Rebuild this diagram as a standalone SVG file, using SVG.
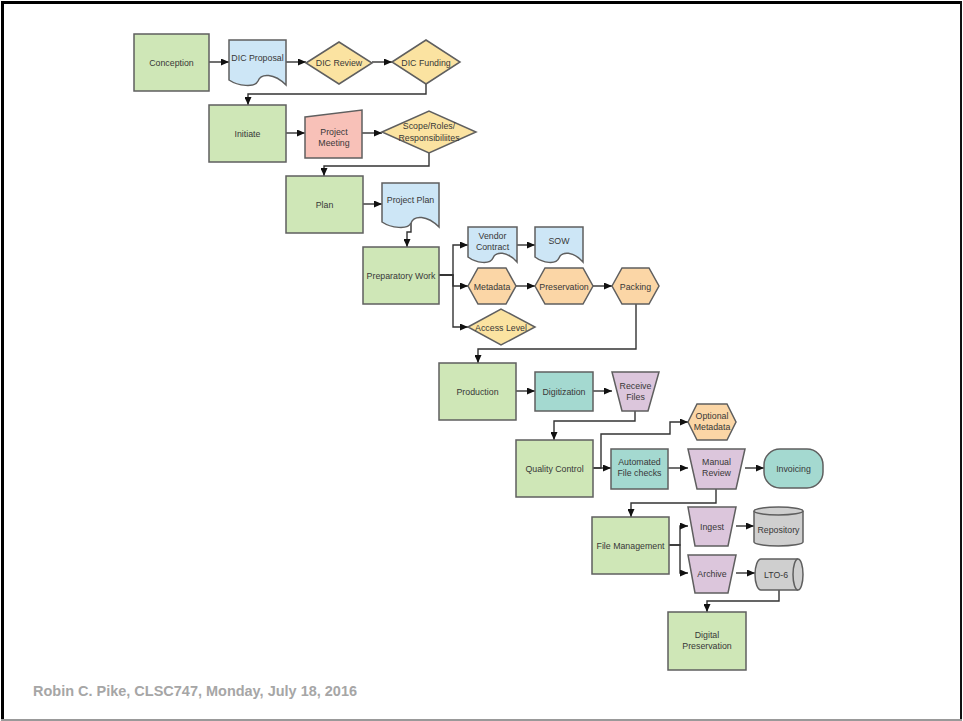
<svg xmlns="http://www.w3.org/2000/svg" width="963" height="721" viewBox="0 0 963 721">
<style>
.n{stroke:#5f5f5f;stroke-width:1.5}
.g{fill:#cfe7b7}
.b{fill:#cde6f6}
.y{fill:#fbe3a1}
.p{fill:#f8c1b8}
.o{fill:#fbd6a6}
.t{fill:#a4d9d0}
.v{fill:#dcc6dc}
.c{fill:#cfcfcf}
text{font-family:"Liberation Sans",Arial,sans-serif;font-size:8.8px;fill:#383838;text-anchor:middle}
.e path{fill:none;stroke:#333;stroke-width:1.4;marker-end:url(#ah)}
</style>
<defs>
<marker id="ah" markerUnits="userSpaceOnUse" markerWidth="9" markerHeight="7" refX="8" refY="3.5" orient="auto">
<path d="M0,0 L8,3.5 L0,7 z" fill="#111"/>
</marker>
</defs>
<rect width="963" height="721" fill="#fff"/>
<g id="frame">
<line x1="2.5" y1="1" x2="2.5" y2="721" stroke="#000" stroke-width="3"/>
<line x1="1" y1="2.5" x2="962" y2="2.5" stroke="#000" stroke-width="3"/>
<line x1="961" y1="1" x2="961" y2="721" stroke="#111" stroke-width="2"/>
<line x1="1" y1="720" x2="962" y2="720" stroke="#999" stroke-width="2"/>
</g>
<g class="e" id="connectors">
<path d="M209,62 H229"/>
<path d="M286,62 H306"/>
<path d="M372,62 H392"/>
<path d="M426,84 V94 H248 V105"/>
<path d="M286,133 H305"/>
<path d="M362,133 H382"/>
<path d="M429,153 V166 H324 V176"/>
<path d="M363,204 H382"/>
<path d="M411,223 V232 H407 V247"/>
<path d="M439,275 H453 V245 H468"/>
<path d="M439,275 H453 V286 H468"/>
<path d="M439,275 H453 V327 H468"/>
<path d="M517,245 H535"/>
<path d="M516,286 H535"/>
<path d="M593,286 H612"/>
<path d="M636,304 V349 H478 V363"/>
<path d="M516,391 H535"/>
<path d="M593,391 H612"/>
<path d="M635,411 V421 H554 V440"/>
<path d="M593,468 H611"/>
<path d="M593,468 H601 V434 H670 V422 H688"/>
<path d="M668,468 H688"/>
<path d="M745,468 H764"/>
<path d="M716,489 V503 H631 V517"/>
<path d="M669,545 H680 V526 H688"/>
<path d="M669,545 H680 V573 H688"/>
<path d="M736,526 H754"/>
<path d="M736,573 H755"/>
<path d="M779,590 V601 H707 V612"/>
</g>
<g id="conception"><rect class="n g" x="134" y="34" width="75" height="57"/><text x="171.5" y="65.5">Conception</text></g>
<g id="dic-proposal"><path class="n b" d="M229,40 H286 V85 C274,73 261,73 258,81 C255,88 238,86 229,80 Z"/><text x="257.5" y="61">DIC Proposal</text></g>
<g id="dic-review"><polygon class="n y" points="306,63 339,42 372,63 339,84"/><text x="339" y="66">DIC Review</text></g>
<g id="dic-funding"><polygon class="n y" points="392,62 426,40 460,62 426,84"/><text x="426" y="65.5">DIC Funding</text></g>
<g id="initiate"><rect class="n g" x="209" y="105" width="77" height="57"/><text x="247.5" y="136.5">Initiate</text></g>
<g id="project-meeting"><polygon class="n p" points="305,117 362,110 362,158 305,158"/><text x="334" y="135">Project</text><text x="334" y="146">Meeting</text></g>
<g id="scope"><polygon class="n y" points="382,132 429,111 476,132 429,153"/><text x="429" y="128.5">Scope/Roles/</text><text x="429" y="141">Responsibiliites</text></g>
<g id="plan"><rect class="n g" x="286" y="176" width="77" height="57"/><text x="324.5" y="207.5">Plan</text></g>
<g id="project-plan"><path class="n b" d="M382,183 H439 V227 C427,215 414,215 411,223 C408,230 391,228 382,222 Z"/><text x="410.5" y="203">Project Plan</text></g>
<g id="preparatory-work"><rect class="n g" x="363" y="247" width="76" height="57"/><text x="401" y="278.5">Preparatory Work</text></g>
<g id="vendor-contract"><path class="n b" d="M468,227 H517 V262 C507,251 496,251 493,258 C490,265 476,263 468,257 Z"/><text x="492.5" y="238.5">Vendor</text><text x="492.5" y="249.5">Contract</text></g>
<g id="sow"><path class="n b" d="M535,227 H583 V262 C573,251 562,251 559,258 C556,265 543,263 535,257 Z"/><text x="559" y="244">SOW</text></g>
<g id="metadata"><polygon class="n o" points="468,286 478,268 506,268 516,286 506,304 478,304"/><text x="492" y="289.5">Metadata</text></g>
<g id="preservation"><polygon class="n o" points="535,286 545,268 583,268 593,286 583,304 545,304"/><text x="564" y="289.5">Preservation</text></g>
<g id="packing"><polygon class="n o" points="612,286 622,268 649,268 659,286 649,304 622,304"/><text x="635.5" y="289.5">Packing</text></g>
<g id="access-level"><polygon class="n y" points="468,327 501,309 535,327 501,345"/><text x="501" y="330.5">Access Level</text></g>
<g id="production"><rect class="n g" x="439" y="363" width="77" height="57"/><text x="477.5" y="394.5">Production</text></g>
<g id="digitization"><rect class="n t" x="535" y="372" width="58" height="39"/><text x="564" y="394.5">Digitization</text></g>
<g id="receive-files"><polygon class="n v" points="612,372 659,372 648,411 622,411"/><text x="635.5" y="389">Receive</text><text x="635.5" y="400">Files</text></g>
<g id="quality-control"><rect class="n g" x="516" y="440" width="77" height="57"/><text x="554.5" y="471.5">Quality Control</text></g>
<g id="optional-metadata"><polygon class="n o" points="688,422 697,404 727,404 736,422 727,440 697,440"/><text x="712" y="419">Optional</text><text x="712" y="430">Metadata</text></g>
<g id="automated-file-checks"><rect class="n t" x="611" y="449" width="57" height="40"/><text x="639.5" y="465">Automated</text><text x="639.5" y="476">File checks</text></g>
<g id="manual-review"><polygon class="n v" points="688,449 745,449 736,489 697,489"/><text x="716.5" y="465">Manual</text><text x="716.5" y="476">Review</text></g>
<g id="invoicing"><rect class="n t" x="764" y="449" width="59" height="39" rx="16" ry="16"/><text x="793.5" y="471.5">Invoicing</text></g>
<g id="file-management"><rect class="n g" x="592" y="517" width="77" height="57"/><text x="630.5" y="548.5">File Management</text></g>
<g id="ingest"><polygon class="n v" points="688,507 736,507 728,546 695,546"/><text x="712" y="529.5">Ingest</text></g>
<g id="repository"><path class="n c" d="M754,511 V542 A24.5,4 0 0 0 803,542 V511"/><ellipse class="n c" cx="778.5" cy="511" rx="24.5" ry="4"/><text x="778.5" y="533">Repository</text></g>
<g id="archive"><polygon class="n v" points="688,555 736,555 728,593 695,593"/><text x="712" y="576.5">Archive</text></g>
<g id="lto-6"><path class="n c" d="M798,559 H761 A6,15.5 0 0 0 761,590 H798"/><ellipse class="n c" cx="798" cy="574.5" rx="5" ry="15.5"/><text x="776" y="577.5">LTO-6</text></g>
<g id="digital-preservation"><rect class="n g" x="668" y="612" width="78" height="58"/><text x="707" y="638">Digital</text><text x="707" y="649">Preservation</text></g>
<text x="33" y="696" style="font-size:14px;font-weight:bold;fill:#a6a6a6;text-anchor:start" textLength="324" lengthAdjust="spacingAndGlyphs">Robin C. Pike, CLSC747, Monday, July 18, 2016</text>
</svg>
